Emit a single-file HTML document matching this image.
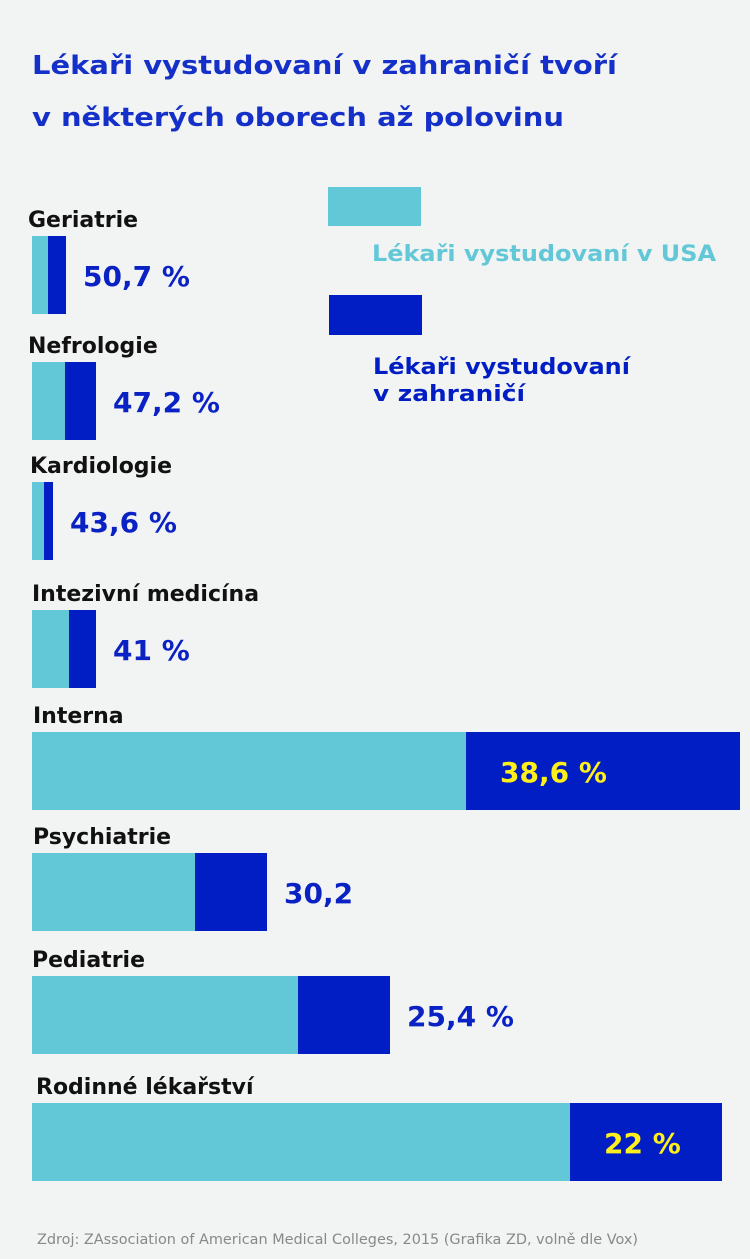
<!DOCTYPE html>
<html><head><meta charset="utf-8"><style>
body{margin:0;background:#f2f3f3;}
svg{display:block;font-family:"DejaVu Sans","Liberation Sans",sans-serif;}
</style></head><body>
<svg id="chart" width="750" height="1259" viewBox="0 0 750 1259">
<rect width="750" height="1259" fill="#f2f3f3"/>
<text x="32" y="74" font-size="26" font-weight="bold" fill="#1530c8" textLength="585" lengthAdjust="spacingAndGlyphs">Lékaři vystudovaní v zahraničí tvoří</text>
<text x="32" y="126" font-size="26" font-weight="bold" fill="#1530c8" textLength="532" lengthAdjust="spacingAndGlyphs">v některých oborech až polovinu</text>
<rect x="328" y="187" width="93" height="39" fill="#62c8d8"/>
<text x="372" y="261" font-size="22" font-weight="bold" fill="#62c8d8" textLength="344" lengthAdjust="spacingAndGlyphs">Lékaři vystudovaní v USA</text>
<rect x="329" y="295" width="93" height="40" fill="#001ec4"/>
<text x="373" y="374" font-size="22" font-weight="bold" fill="#001ec4" textLength="257" lengthAdjust="spacingAndGlyphs">Lékaři vystudovaní</text>
<text x="373" y="401" font-size="22" font-weight="bold" fill="#001ec4" textLength="152" lengthAdjust="spacingAndGlyphs">v zahraničí</text>
<g id="bars"></g>
<text x="37" y="1244" font-size="14" fill="#888" textLength="601" lengthAdjust="spacingAndGlyphs">Zdroj: ZAssociation of American Medical Colleges, 2015 (Grafika ZD, volně dle Vox)</text>
</svg>
<script>
const categories=["Geriatrie","Nefrologie","Kardiologie","Intezivní medicína","Interna","Psychiatrie","Pediatrie","Rodinné lékařství"];
const usaValues=[16,33,12,37,434,163,266,538];
const foreignValues=[18,31,9,27,274,72,92,152];
const shareLabels=["50,7 %","47,2 %","43,6 %","41 %","38,6 %","30,2","25,4 %","22 %"];
const labelInside=[false,false,false,false,true,false,false,true];
const barTops=[236,362,482,610,732,853,976,1103];
const catX=[28,28,30,32,33,33,32,36];
const barH=78, x0=32, k=1;
const xs=v=>x0+v*k;
const ns="http://www.w3.org/2000/svg";
const g=document.getElementById("bars");
function mk(tag,attrs){const e=document.createElementNS(ns,tag);for(const a in attrs)e.setAttribute(a,attrs[a]);g.appendChild(e);return e;}
categories.forEach((c,i)=>{
  const y=barTops[i];
  const t=mk("text",{x:catX[i],y:y-9,"font-size":22,"font-weight":"bold",fill:"#111"});
  t.textContent=c;
  
  
  const r1=mk("rect",{x:xs(0),y:y,width:usaValues[i]*k,height:barH,fill:"#62c8d8"});
  
  
  const r2=mk("rect",{x:xs(usaValues[i]),y:y,width:foreignValues[i]*k,height:barH,fill:"#001ec4"});
  
  
  const end=xs(usaValues[i]+foreignValues[i]);
  const lx=labelInside[i]?xs(usaValues[i])+34:end+17;
  const l=mk("text",{x:lx,y:y+barH/2+11,"font-size":28,"font-weight":"bold",fill:labelInside[i]?"#ffef1a":"#0a22c4"});
  l.textContent=shareLabels[i];
  
  
});
</script>
</body></html>
